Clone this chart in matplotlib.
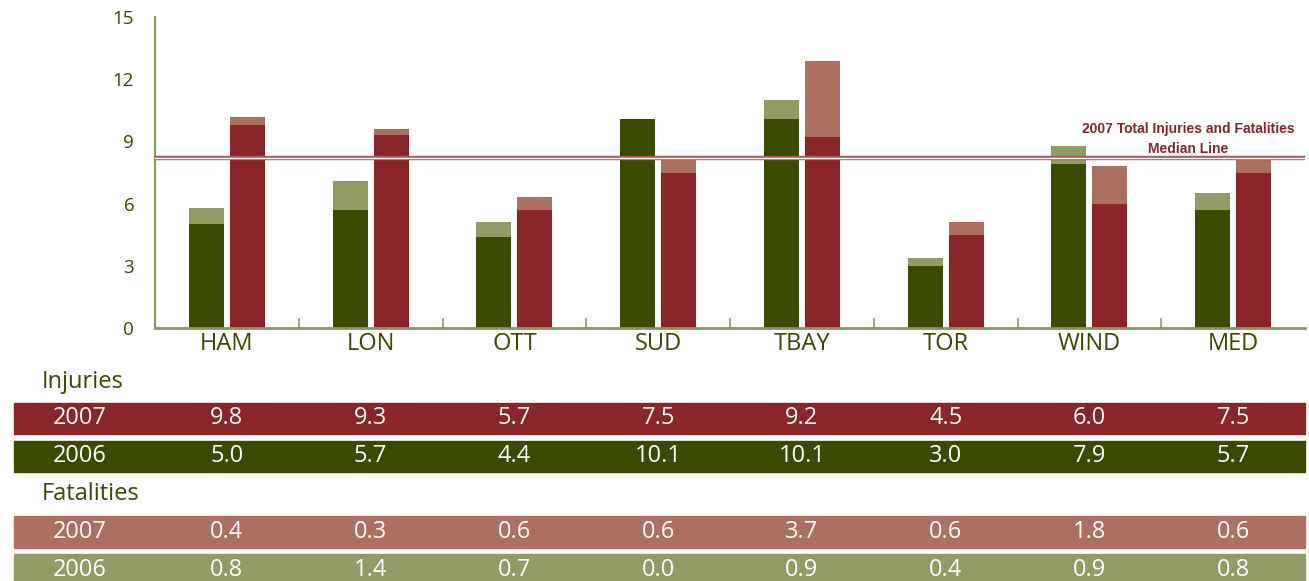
import numpy as np
import matplotlib
matplotlib.use('Agg')
import matplotlib.pyplot as plt
from matplotlib.patches import Rectangle
from matplotlib.transforms import blended_transform_factory

plt.rcParams['font.family'] = ['Open Sans', 'DejaVu Sans']

# data
sites = ['HAM', 'LON', 'OTT', 'SUD', 'TBAY', 'TOR', 'WIND', 'MED']
inj_2007 = [9.8, 9.3, 5.7, 7.5, 9.2, 4.5, 6.0, 7.5]
inj_2006 = [5.0, 5.7, 4.4, 10.1, 10.1, 3.0, 7.9, 5.7]
fat_2007 = [0.4, 0.3, 0.6, 0.6, 3.7, 0.6, 1.8, 0.6]
fat_2006 = [0.8, 1.4, 0.7, 0.0, 0.9, 0.4, 0.9, 0.8]
median_2007 = 8.2
yticks = [0, 3, 6, 9, 12, 15]

# colours
dark_green = '#3a4a00'
light_green = '#929a66'
dark_red = '#8a252a'
light_red = '#ad7060'
line_red = '#b5545c'
axis_col = '#8a9560'

W, H = 1309, 581
fig = plt.figure(figsize=(W / 100, H / 100), dpi=100)
ax = fig.add_axes([155 / W, 1 - 328 / H, 1150 / W, 311 / H])

x = np.arange(len(sites))
bw = 0.243
off = 0.1425
ax.bar(x - off, inj_2006, bw, color=dark_green, zorder=2)
ax.bar(x - off, fat_2006, bw, bottom=inj_2006, color=light_green, zorder=2)
ax.bar(x + off, inj_2007, bw, color=dark_red, zorder=2)
ax.bar(x + off, fat_2007, bw, bottom=inj_2007, color=light_red, zorder=2)

# double median line
ax.axhline(median_2007, color=line_red, lw=3.2, zorder=3)
ax.axhline(median_2007, color='white', lw=1.0, zorder=4)
lbl = dict(ha='center', va='center', color=dark_red, fontsize=10,
           fontweight='bold', family=['Liberation Sans', 'DejaVu Sans'], zorder=5)
ax.text(6.69, 9.6, '2007 Total Injuries and Fatalities', **lbl)
ax.text(6.69, 8.65, 'Median Line', **lbl)

ax.set_xlim(-0.5, len(sites) - 0.5)
ax.set_ylim(0, 15)
ax.set_yticks(yticks)
ax.set_yticklabels([str(v) for v in yticks], fontsize=13.5, color=dark_green)
ax.tick_params(axis='y', length=0, pad=15)
ax.set_xticks(x)
ax.set_xticklabels(sites, fontsize=17, color=dark_green)
ax.tick_params(axis='x', length=0, pad=3)
ax.set_xticks(np.arange(0.5, len(sites) - 0.5), minor=True)
ax.tick_params(axis='x', which='minor', direction='in', length=7, width=1.5,
               color='#a5ab80')
for s in ['top', 'right']:
    ax.spines[s].set_visible(False)
ax.spines['left'].set_color(axis_col)
ax.spines['left'].set_linewidth(1.5)
ax.spines['bottom'].set_color(axis_col)
ax.spines['bottom'].set_linewidth(2)

# table below the chart
tr = blended_transform_factory(ax.transData, fig.transFigure)
rows = [
    ('2007', inj_2007, dark_red, 403, 434),
    ('2006', inj_2006, dark_green, 441, 472),
    ('2007', fat_2007, light_red, 516, 548),
    ('2006', fat_2006, light_green, 554, 586),
]
for label, vals, col, top, bot in rows:
    fig.patches.append(Rectangle((14 / W, 1 - bot / H), (1305 - 14) / W, (bot - top) / H,
                                 transform=fig.transFigure, color=col, zorder=0))
    yc = 1 - (top + bot) / 2 / H
    fig.text(53 / W, yc, label, color='white', fontsize=17, va='center', ha='left')
    for xi, v in zip(x, vals):
        fig.text(xi, yc, f'{v:.1f}', color='white', fontsize=17, va='center',
                 ha='center', transform=tr)

fig.text(42 / W, 1 - 382 / H, 'Injuries', color=dark_green, fontsize=17, va='center')
fig.text(42 / W, 1 - 494 / H, 'Fatalities', color=dark_green, fontsize=17, va='center')

fig.savefig('out.png', dpi=100)
